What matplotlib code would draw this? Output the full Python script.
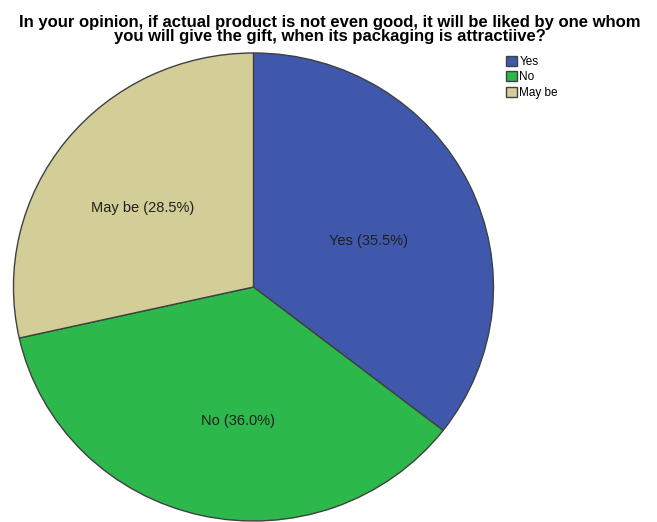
import matplotlib.pyplot as plt
from matplotlib.patches import Patch

plt.rcParams['font.family'] = ['Liberation Sans', 'DejaVu Sans']

categories = ['Yes', 'No', 'May be']
shares = [35.5, 36.0, 28.5]
colors = ['#3f58ab', '#2db84b', '#d3cd98']

fig = plt.figure(figsize=(6.57, 5.22), dpi=100)
ax = fig.add_axes([0.0205, 0.0019, 0.7306, 0.8966])

wedges, _ = ax.pie(shares, colors=colors, startangle=90, counterclock=False,
                   wedgeprops=dict(edgecolor='#404040', linewidth=1.0))
ax.set_aspect('auto')
ax.set_xlim(-1, 1)
ax.set_ylim(-1, 1)
ax.axis('off')

# label spots inside each slice
label_pos = [(0.481, 0.197), (-0.065, -0.573), (-0.46, 0.338)]
for name, val, (x, y) in zip(categories, shares, label_pos):
    ax.text(x, y, '%s (%.1f%%)' % (name, val), ha='center', va='center',
            fontsize=10.5, color='#202020')

fig.text(0.502, 0.943, 'In your opinion, if actual product is not even good, it will be liked by one whom\n'
         'you will give the gift, when its packaging is attractiive?',
         ha='center', va='center', fontsize=12, fontweight='bold', linespacing=0.92)

handles = [Patch(facecolor=c, edgecolor='#404040', label=n) for c, n in zip(colors, categories)]
fig.legend(handles=handles, loc='upper left', bbox_to_anchor=(0.770, 0.893), frameon=False,
           fontsize=8.5, handlelength=0.9, handleheight=0.9, handletextpad=0.25,
           labelspacing=0.3, borderpad=0, borderaxespad=0)

fig.savefig('out.png', dpi=100)
